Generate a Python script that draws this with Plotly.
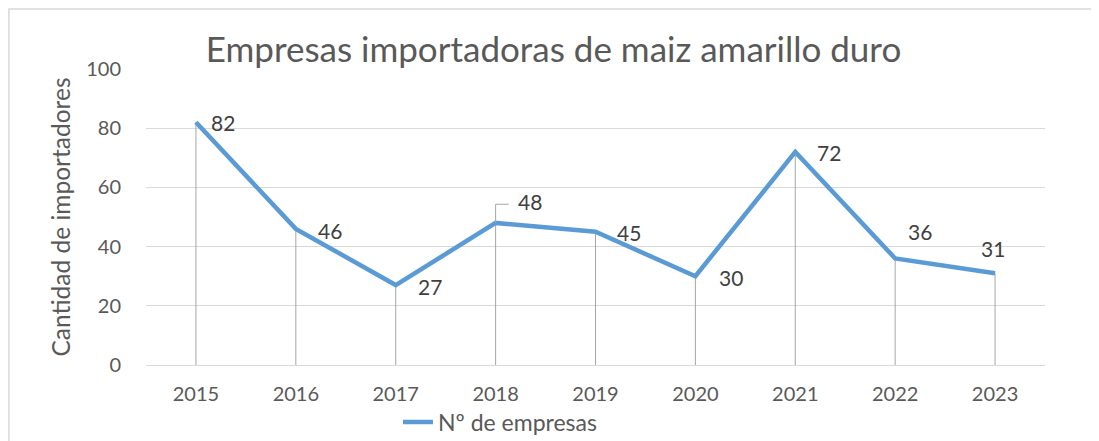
import plotly.graph_objects as go

years = ["2015", "2016", "2017", "2018", "2019", "2020", "2021", "2022", "2023"]
empresas = [82, 46, 27, 48, 45, 30, 72, 36, 31]
series_name = "Nº de empresas"
title_text = "Empresas importadoras de maiz amarillo duro"
y_title = "Cantidad de importadores"

# label offsets in pixels (x, y)
label_offsets = [(27, 0), (34, -2), (34, -1), (34, 21), (33, -1), (36, -1), (34, -1), (25, 27), (-2, 25)]

FONT = "Lato"
fig = go.Figure()

# drop lines
dx, dy = [], []
for yr, v in zip(years, empresas):
    dx += [yr, yr, None]
    dy += [0, v, None]
fig.add_trace(go.Scatter(x=dx, y=dy, mode="lines", line=dict(color="#A6A6A6", width=1),
                         showlegend=False, hoverinfo="skip"))

fig.add_trace(go.Scatter(x=years, y=empresas, mode="lines", name=series_name,
                         line=dict(color="#5B9BD5", width=4.5)))

for i, v in enumerate(empresas):
    ox, oy = label_offsets[i]
    fig.add_annotation(x=i, y=v, xref="x", yref="y", text=str(v), showarrow=False,
                       xshift=ox, yshift=oy,
                       font=dict(family=FONT, size=21, color="#404040"))

# leader line for the 2018 label
i18 = years.index("2018")
fig.add_shape(type="path", xref="x", yref="y",
              path=f"M {i18} {empresas[i18]} L {i18} {empresas[i18] + 6.3} L {i18 + 0.13} {empresas[i18] + 6.3}",
              line=dict(color="#A6A6A6", width=1))

# outer border (left and top edges visible)
fig.add_shape(type="rect", xref="paper", yref="paper", x0=-0.1525, x1=1.3, y0=-0.6, y1=1.2027,
              line=dict(color="#D9D9D9", width=1.5), layer="below")

fig.update_layout(
    width=1091, height=433,
    margin=dict(l=138, r=54, t=61, b=76, autoexpand=False),
    paper_bgcolor="white", plot_bgcolor="white",
    title=dict(text=title_text, x=0.5, xanchor="center", y=0.903, yanchor="middle",
               font=dict(family=FONT, size=35, color="#595959")),
    font=dict(family=FONT, color="#595959"),
    showlegend=True,
    legend=dict(orientation="h", x=0.2803, xanchor="left", y=-0.1926, yanchor="middle",
                font=dict(family=FONT, size=23, color="#595959")),
)
fig.update_xaxes(type="category", showgrid=False, zeroline=False, showline=True,
                 linecolor="#D9D9D9", linewidth=1, ticks="",
                 tickfont=dict(family=FONT, size=20, color="#595959"),
                 ticklabelstandoff=11, range=[-0.5, 8.5])
fig.update_yaxes(range=[0, 100], dtick=20, showgrid=True, gridcolor="#D9D9D9", gridwidth=1,
                 zeroline=False, showline=False, ticks="",
                 tickfont=dict(family=FONT, size=20, color="#595959"),
                 ticklabelstandoff=24,
                 title=dict(text=y_title, font=dict(family=FONT, size=24.5, color="#595959"), standoff=8))

fig.write_html("out.html")
